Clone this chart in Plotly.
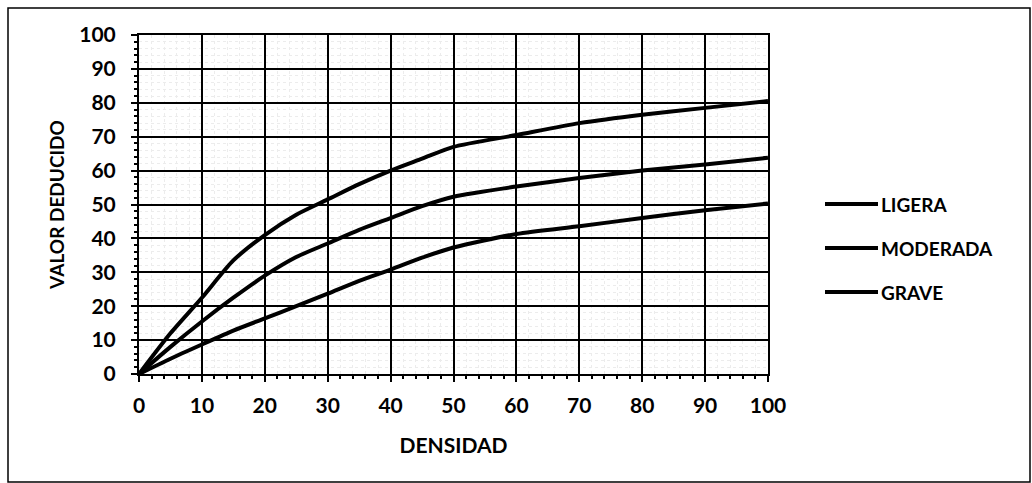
import plotly.graph_objects as go

densidad = [0, 5, 10, 15, 20, 25, 30, 35, 40, 45, 50, 60, 70, 80, 90, 100]
ligera = [0, 4.5, 8.7, 12.8, 16.4, 20.0, 23.7, 27.5, 30.8, 34.3, 37.3, 41.3, 43.6, 46.0, 48.3, 50.3]
moderada = [0, 8.0, 15.5, 22.5, 29.0, 34.5, 38.5, 42.5, 46.0, 49.5, 52.3, 55.3, 57.8, 60.0, 61.8, 63.8]
grave = [0, 12.0, 22.5, 33.5, 41.0, 47.0, 51.5, 56.0, 60.0, 63.5, 67.0, 70.5, 74.0, 76.5, 78.5, 80.5]
series_names = ["LIGERA", "MODERADA", "GRAVE"]
x_ticks = list(range(0, 101, 10))
y_ticks = list(range(0, 101, 10))

FONT = "Lato"
W, H = 1032, 483
L, R, T, B = 139, 264, 35, 109
PW, PH = W - L - R, H - T - B


def px_x(p):
    return (p - L) / PW


def px_y(p):
    return (H - B - p) / PH


fig = go.Figure()
for name, vals in zip(series_names, [ligera, moderada, grave]):
    fig.add_trace(go.Scatter(
        x=densidad, y=vals, name=name, mode="lines", showlegend=False,
        line=dict(color="black", width=4, shape="spline", smoothing=0.7),
    ))

axis_common = dict(
    showgrid=True, gridcolor="black", gridwidth=2,
    showline=True, linecolor="black", linewidth=2, mirror=True,
    zeroline=False, ticks="outside", ticklen=6, tickwidth=2, tickcolor="black",
    minor=dict(dtick=2, ticks="outside", ticklen=3, tickcolor="black",
               showgrid=True, gridcolor="#ececec", gridwidth=1, griddash="dot"),
    tickfont=dict(family=FONT, size=21, color="black", weight="bold"),
)
fig.update_xaxes(range=[0, 100], tickvals=x_ticks, ticklabelstandoff=6, **axis_common,
                 title=dict(text="<b>DENSIDAD</b>", font=dict(family=FONT, size=21, color="black"), standoff=22))
fig.update_yaxes(range=[0, 100], tickvals=y_ticks, ticklabelstandoff=11, **axis_common,
                 title=dict(text="<b>VALOR DEDUCIDO</b>", font=dict(family=FONT, size=19, color="black"), standoff=10))

legend_rows = [204, 248, 292]
shapes = [dict(type="rect", xref="paper", yref="paper",
               x0=px_x(8), x1=px_x(1030), y0=px_y(482), y1=px_y(8),
               line=dict(color="black", width=1.5))]
annotations = []
for name, row in zip(series_names, legend_rows):
    shapes.append(dict(type="line", xref="paper", yref="paper",
                       x0=px_x(825), x1=px_x(878), y0=px_y(row), y1=px_y(row),
                       line=dict(color="black", width=4)))
    annotations.append(dict(xref="paper", yref="paper", x=px_x(879), y=px_y(row),
                            xanchor="left", yanchor="middle", showarrow=False,
                            text="<b>%s</b>" % name,
                            font=dict(family=FONT, size=19, color="black")))

fig.update_layout(
    width=W, height=H,
    margin=dict(l=L, r=R, t=T, b=B),
    paper_bgcolor="white", plot_bgcolor="white",
    showlegend=False,
    shapes=shapes, annotations=annotations,
)
fig.write_html("out.html")
